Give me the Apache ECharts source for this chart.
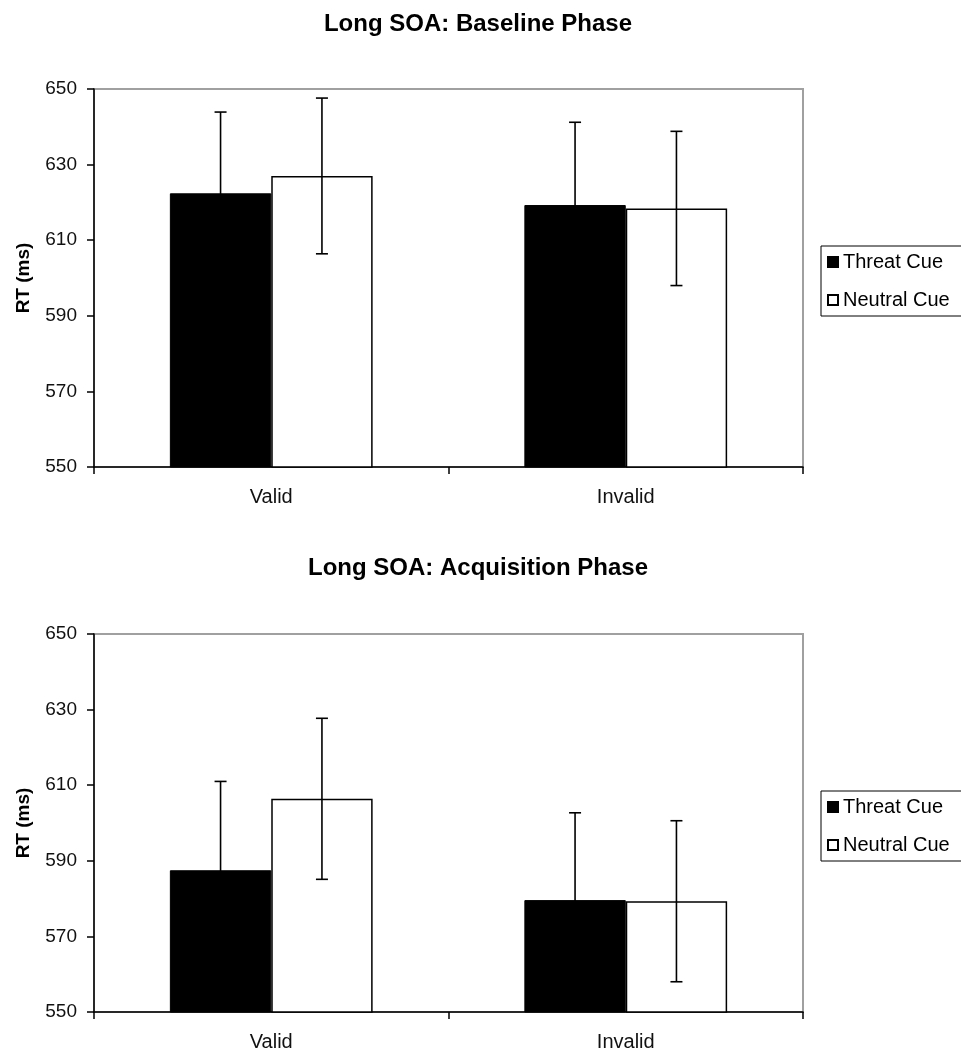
<!DOCTYPE html>
<html>
<head>
<meta charset="utf-8">
<script src="https://cdn.jsdelivr.net/npm/echarts@6/dist/echarts.min.js"></script>
<style>
  html, body { margin: 0; padding: 0; background: #fff; }
  #chart { width: 961px; height: 1052px; }
</style>
</head>
<body>
<div id="chart"></div>
<script>
// categories and values
const categories = ['Valid', 'Invalid'];
const seriesNames = ['Threat Cue', 'Neutral Cue'];

// baseline phase
const baselineThreat = [622.4, 619.3];
const baselineNeutral = [627.0, 618.4];
const baselineThreatErr = [21.5, 21.9];
const baselineNeutralErr = [20.6, 20.4];

// acquisition phase
const acqThreat = [587.5, 579.6];
const acqNeutral = [606.4, 579.3];
const acqThreatErr = [23.5, 23.1];
const acqNeutralErr = [21.3, 21.3];

const yTicks = [550, 570, 590, 610, 630, 650];

const FONT = "'Liberation Sans', Arial, sans-serif";
const BAR_W = 0.286; // fraction of category width

const chart = echarts.init(document.getElementById('chart'));

function errorItem(params, api) {
  const cat = api.value(0);
  const val = api.value(1);
  const err = api.value(2);
  const side = api.value(3);
  const catW = api.size([1, 0])[0];
  const dx = side * catW * BAR_W / 2;
  const top = api.coord([cat, val + err]);
  const bot = api.coord([cat, val - err]);
  const x = top[0] + dx;
  const cap = 6;
  const style = { stroke: '#000', lineWidth: 1.6 };
  return {
    type: 'group',
    children: [
      { type: 'line', shape: { x1: x, y1: top[1], x2: x, y2: bot[1] }, style: style },
      { type: 'line', shape: { x1: x - cap, y1: top[1], x2: x + cap, y2: top[1] }, style: style },
      { type: 'line', shape: { x1: x - cap, y1: bot[1], x2: x + cap, y2: bot[1] }, style: style }
    ]
  };
}

function errData(vals, errs, side) {
  return vals.map((v, i) => [i, v, errs[i], side]);
}

function xAxis(idx) {
  return {
    type: 'category',
    gridIndex: idx,
    data: categories,
    axisLine: { lineStyle: { color: '#000', width: 1.5 } },
    axisTick: { show: true, length: 7, lineStyle: { color: '#000', width: 1.5 } },
    axisLabel: { color: '#111', fontSize: 20, fontFamily: FONT, margin: 20 }
  };
}

function yAxis(idx) {
  return {
    type: 'value',
    gridIndex: idx,
    min: yTicks[0],
    max: yTicks[yTicks.length - 1],
    interval: 20,
    name: 'RT (ms)',
    nameLocation: 'middle',
    nameGap: 61,
    nameTextStyle: { color: '#000', fontSize: 19, fontWeight: 'bold', fontFamily: FONT },
    axisLine: { show: true, lineStyle: { color: '#000', width: 1.5 } },
    axisTick: { show: true, length: 7, lineStyle: { color: '#000', width: 1.5 } },
    axisLabel: { color: '#111', fontSize: 19, fontFamily: FONT, margin: 17 },
    splitLine: { show: false }
  };
}

function legend(top) {
  return {
    orient: 'vertical',
    left: 821,
    top: top,
    data: seriesNames.map(n => ({ name: n, icon: 'rect' })),
    itemWidth: 10,
    itemHeight: 10,
    itemGap: 18,
    padding: [6, 20, 6, 6],
    borderColor: '#000',
    borderWidth: 1,
    backgroundColor: '#fff',
    borderRadius: 0,
    textStyle: { color: '#000', fontSize: 20, fontFamily: FONT }
  };
}

function barSeries(name, data, idx) {
  const black = name === seriesNames[0];
  return {
    name: name,
    type: 'bar',
    xAxisIndex: idx,
    yAxisIndex: idx,
    data: data,
    barWidth: (BAR_W * 100) + '%',
    barGap: '0%',
    itemStyle: black
      ? { color: '#000', borderColor: '#000', borderWidth: 1 }
      : { color: '#fff', borderColor: '#000', borderWidth: 1.5 },
    emphasis: { disabled: true }
  };
}

function errSeries(data, idx) {
  return {
    type: 'custom',
    xAxisIndex: idx,
    yAxisIndex: idx,
    renderItem: errorItem,
    data: data,
    z: 10,
    silent: true
  };
}

chart.setOption({
  animation: false,
  backgroundColor: '#fff',
  title: [
    { text: 'Long SOA: Baseline Phase', left: 478, top: 12, textAlign: 'center', padding: 0,
      textStyle: { fontSize: 24, fontWeight: 'bold', color: '#000', fontFamily: FONT } },
    { text: 'Long SOA: Acquisition Phase', left: 478, top: 556, textAlign: 'center', padding: 0,
      textStyle: { fontSize: 24, fontWeight: 'bold', color: '#000', fontFamily: FONT } }
  ],
  legend: [legend(246), legend(791)],
  grid: [
    { left: 94, top: 89, width: 709, height: 378, show: true, borderColor: '#a0a0a0', borderWidth: 2, backgroundColor: '#fff' },
    { left: 94, top: 634, width: 709, height: 378, show: true, borderColor: '#a0a0a0', borderWidth: 2, backgroundColor: '#fff' }
  ],
  xAxis: [xAxis(0), xAxis(1)],
  yAxis: [yAxis(0), yAxis(1)],
  series: [
    barSeries(seriesNames[0], baselineThreat, 0),
    barSeries(seriesNames[1], baselineNeutral, 0),
    errSeries(errData(baselineThreat, baselineThreatErr, -1), 0),
    errSeries(errData(baselineNeutral, baselineNeutralErr, 1), 0),
    barSeries(seriesNames[0], acqThreat, 1),
    barSeries(seriesNames[1], acqNeutral, 1),
    errSeries(errData(acqThreat, acqThreatErr, -1), 1),
    errSeries(errData(acqNeutral, acqNeutralErr, 1), 1)
  ]
});
</script>
</body>
</html>
